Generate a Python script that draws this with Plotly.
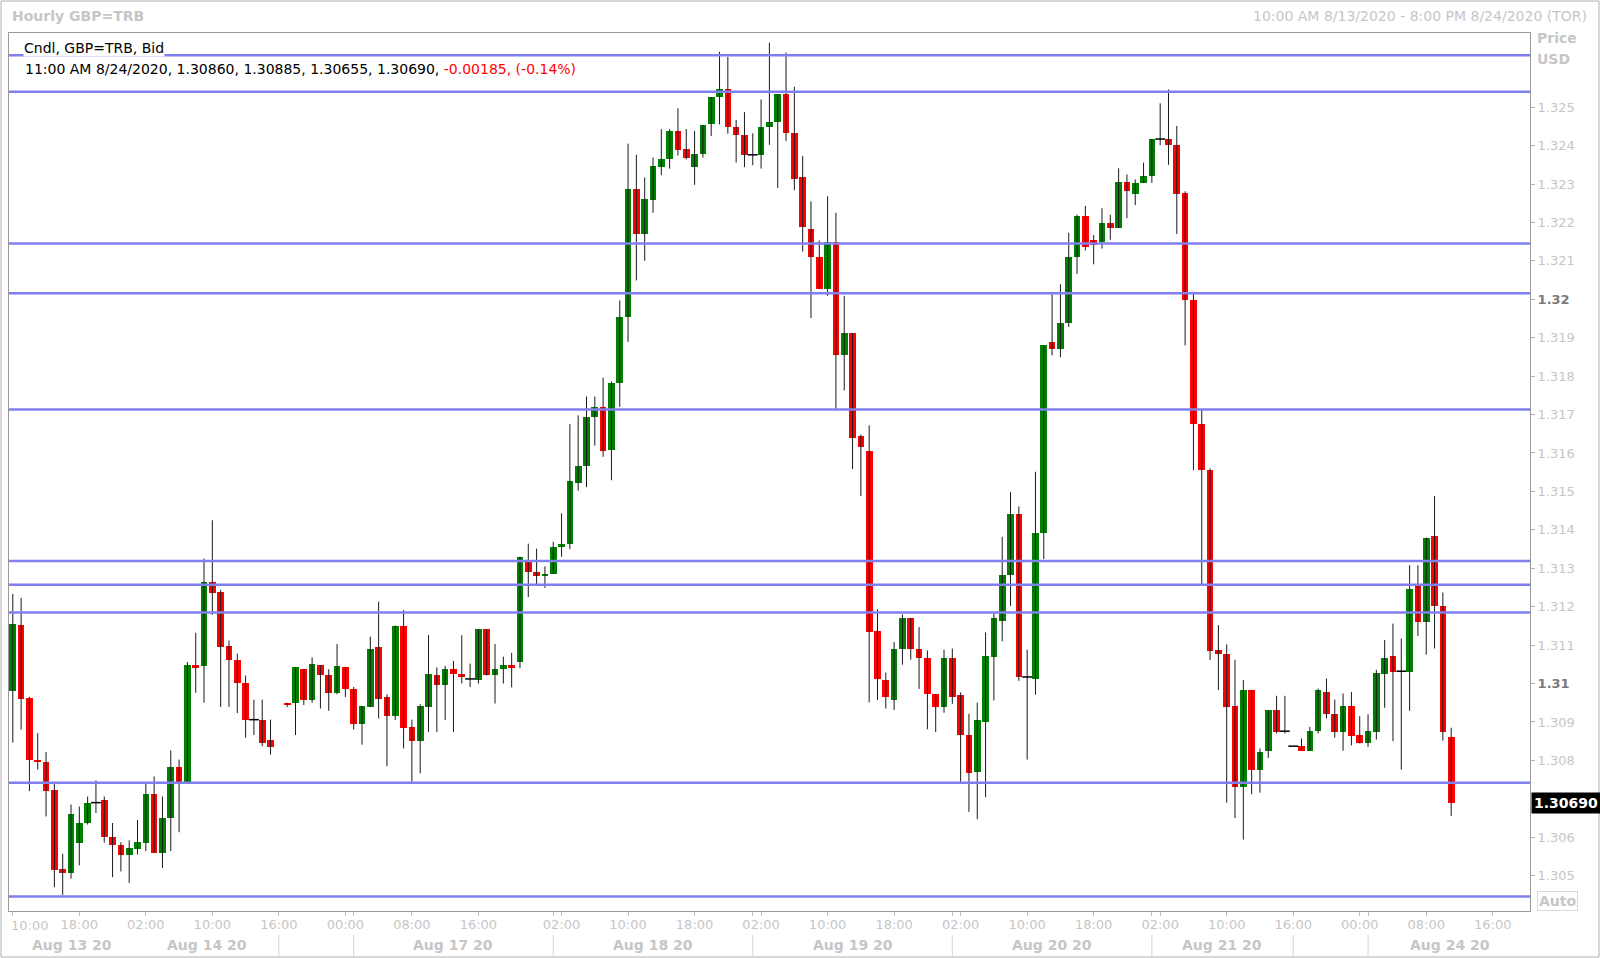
import plotly.graph_objects as go

# ---------------- data (hourly GBP=TRB bid candles, slot index = hourly bar) ----------------
opens = [1.30981, 1.31152, 1.30963, 1.30802, 1.30796, 1.30722, 1.30517, 1.30507, 1.30586, 1.30636,
         1.30690, 1.30696, 1.30601, 1.30581, 1.30555, 1.30570, 1.30586, 1.30713, 1.30560, 1.30650,
         1.30783, 1.30745, 1.31047, 1.31045, 1.31263, 1.31238, 1.31097, 1.31062, 1.31002, 1.30906,
         1.30906, 1.30853, None, 1.30950, 1.30950, 1.31037, 1.30957, 1.31047, 1.31022, 1.30976,
         1.31042, 1.30987, 1.30894, 1.30939, 1.31096, 1.30964, 1.30915, 1.31151, 1.30886, 1.30850,
         1.30939, 1.31022, 1.30996, 1.31037, 1.31026, 1.31012, 1.31010, 1.31141, 1.31021, 1.31037,
         1.31048, 1.31055, 1.31315, 1.31291, 1.31279, 1.31286, 1.31355, 1.31364, 1.31521, 1.31565,
         1.31693, 1.31720, 1.31609, 1.31781, 1.31953, 1.32288, 1.32171, 1.32259, 1.32345, 1.32364,
         1.32438, 1.32392, 1.32345, 1.32379, 1.32455, 1.32526, 1.32546, 1.32448, 1.32428, 1.32376,
         1.32376, 1.32448, 1.32462, 1.32533, 1.32432, 1.32317, 1.32183, 1.32111, 1.32026, 1.32150,
         1.31855, 1.31912, 1.31643, 1.31606, 1.31137, 1.31009, 1.30957, 1.31091, 1.31171, 1.31091,
         1.31066, 1.30973, 1.30940, 1.31066, 1.30970, 1.30865, 1.30771, 1.30899, 1.31070, 1.31164,
         1.31282, 1.31442, 1.31017, 1.31013, 1.31391, 1.31890, 1.31871, 1.31938, 1.32110, 1.32218,
         1.32155, 1.32148, 1.32198, 1.32186, 1.32306, 1.32274, 1.32303, 1.32322, 1.32417, 1.32417,
         1.32401, 1.32277, 1.31997, 1.31675, 1.31555, 1.31087, 1.31076, 1.30941, 1.30731, 1.30983,
         1.30776, 1.30825, 1.30930, 1.30876, 1.30837, 1.30837, 1.30825, 1.30876, 1.30978, 1.30920,
         1.30874, 1.30941, 1.30865, 1.30844, 1.30874, 1.31026, 1.31071, 1.31032, 1.31030, 1.31253,
         1.31159, 1.31385, 1.31202, 1.30860]
highs = [1.31233, 1.31223, 1.30965, 1.30871, 1.30822, 1.30739, 1.30557, 1.30685, 1.30680, 1.30706,
         1.30748, 1.30706, 1.30637, 1.30587, 1.30592, 1.30645, 1.30739, 1.30758, 1.30706, 1.30826,
         1.30802, 1.31056, 1.31132, 1.31325, 1.31425, 1.31244, 1.31112, 1.31078, 1.31021, 1.30958,
         1.30958, 1.30906, None, 1.30950, 1.31042, 1.31037, 1.31068, 1.31047, 1.31037, 1.31103,
         1.31042, 1.30991, 1.30941, 1.31122, 1.31213, 1.30972, 1.31151, 1.31191, 1.30906, 1.30946,
         1.31126, 1.31042, 1.31046, 1.31059, 1.31126, 1.31052, 1.31141, 1.31141, 1.31103, 1.31070,
         1.31080, 1.31330, 1.31364, 1.31351, 1.31305, 1.31369, 1.31443, 1.31675, 1.31698, 1.31747,
         1.31747, 1.31796, 1.31786, 1.31997, 1.32405, 1.32376, 1.32317, 1.32369, 1.32443, 1.32443,
         1.32497, 1.32443, 1.32438, 1.32453, 1.32526, 1.32644, 1.32631, 1.32467, 1.32487, 1.32432,
         1.32520, 1.32668, 1.32533, 1.32642, 1.32553, 1.32373, 1.32255, 1.32153, 1.32268, 1.32225,
         1.32009, 1.31912, 1.31648, 1.31672, 1.31193, 1.31029, 1.31108, 1.31180, 1.31171, 1.31147,
         1.31086, 1.30973, 1.31088, 1.31091, 1.30977, 1.30921, 1.30950, 1.31133, 1.31183, 1.31382,
         1.31498, 1.31461, 1.31088, 1.31551, 1.31880, 1.32013, 1.32039, 1.32173, 1.32220, 1.32243,
         1.32167, 1.32237, 1.32220, 1.32341, 1.32325, 1.32312, 1.32356, 1.32417, 1.32510, 1.32546,
         1.32451, 1.32281, 1.32018, 1.31713, 1.31560, 1.31152, 1.31102, 1.31062, 1.31009, 1.30983,
         1.30831, 1.30930, 1.30968, 1.30968, 1.30837, 1.30857, 1.30887, 1.30987, 1.31013, 1.30958,
         1.30974, 1.30978, 1.30915, 1.30920, 1.31036, 1.31113, 1.31156, 1.31117, 1.31308, 1.31308,
         1.31380, 1.31488, 1.31237, 1.30885]
lows = [1.30846, 1.30880, 1.30720, 1.30776, 1.30654, 1.30470, 1.30450, 1.30492, 1.30527, 1.30633,
        1.30663, 1.30586, 1.30496, 1.30511, 1.30481, 1.30555, 1.30564, 1.30560, 1.30520, 1.30564,
        1.30613, 1.30745, 1.30976, 1.30950, 1.31179, 1.30939, 1.30939, 1.30923, 1.30859, 1.30866,
        1.30837, 1.30815, None, 1.30939, 1.30866, 1.30944, 1.30950, 1.30935, 1.30929, 1.30972,
        1.30965, 1.30880, 1.30841, 1.30939, 1.30909, 1.30785, 1.30905, 1.30831, 1.30744, 1.30766,
        1.30874, 1.30874, 1.30905, 1.30874, 1.31000, 1.30991, 1.31000, 1.31021, 1.30948, 1.31000,
        1.30990, 1.31040, 1.31225, 1.31258, 1.31249, 1.31286, 1.31330, 1.31350, 1.31502, 1.31511,
        1.31619, 1.31590, 1.31529, 1.31720, 1.31889, 1.32049, 1.32100, 1.32225, 1.32323, 1.32340,
        1.32374, 1.32364, 1.32298, 1.32369, 1.32425, 1.32455, 1.32431, 1.32356, 1.32344, 1.32349,
        1.32340, 1.32402, 1.32290, 1.32412, 1.32284, 1.32124, 1.31951, 1.32026, 1.32009, 1.31715,
        1.31763, 1.31558, 1.31488, 1.30951, 1.30957, 1.30935, 1.30931, 1.31049, 1.31062, 1.30986,
        1.30881, 1.30874, 1.30924, 1.30947, 1.30744, 1.30666, 1.30647, 1.30704, 1.30956, 1.31110,
        1.31202, 1.31007, 1.30802, 1.30971, 1.31324, 1.31854, 1.31849, 1.31928, 1.32066, 1.32127,
        1.32091, 1.32132, 1.32155, 1.32186, 1.32211, 1.32245, 1.32303, 1.32303, 1.32401, 1.32350,
        1.32170, 1.31880, 1.31555, 1.31259, 1.31061, 1.30983, 1.30690, 1.30650, 1.30594, 1.30712,
        1.30716, 1.30806, 1.30870, 1.30870, 1.30837, 1.30825, 1.30825, 1.30870, 1.30909, 1.30859,
        1.30825, 1.30839, 1.30844, 1.30835, 1.30854, 1.30937, 1.30850, 1.30776, 1.30929, 1.31124,
        1.31075, 1.31091, 1.30851, 1.30655]
closes = [1.31156, 1.30961, 1.30800, 1.30796, 1.30720, 1.30515, 1.30507, 1.30661, 1.30636, 1.30690,
          1.30690, 1.30601, 1.30580, 1.30555, 1.30572, 1.30587, 1.30713, 1.30560, 1.30651, 1.30783,
          1.30745, 1.31047, 1.31040, 1.31263, 1.31236, 1.31095, 1.31060, 1.31001, 1.30904, 1.30906,
          1.30844, 1.30835, None, 1.30944, 1.31042, 1.30957, 1.31052, 1.31021, 1.30976, 1.31046,
          1.30987, 1.30894, 1.30941, 1.31091, 1.30961, 1.30915, 1.31151, 1.30885, 1.30850, 1.30941,
          1.31026, 1.30996, 1.31037, 1.31026, 1.31016, 1.31012, 1.31141, 1.31021, 1.31037, 1.31048,
          1.31040, 1.31330, 1.31291, 1.31279, 1.31286, 1.31355, 1.31364, 1.31526, 1.31565, 1.31693,
          1.31720, 1.31605, 1.31781, 1.31953, 1.32288, 1.32171, 1.32261, 1.32347, 1.32366, 1.32438,
          1.32389, 1.32369, 1.32379, 1.32453, 1.32526, 1.32546, 1.32448, 1.32428, 1.32376, 1.32376,
          1.32448, 1.32462, 1.32533, 1.32432, 1.32314, 1.32187, 1.32111, 1.32026, 1.32150, 1.31855,
          1.31912, 1.31639, 1.31615, 1.31134, 1.31012, 1.30966, 1.31091, 1.31171, 1.31091, 1.31066,
          1.30973, 1.30940, 1.31066, 1.30966, 1.30865, 1.30767, 1.30906, 1.31072, 1.31171, 1.31282,
          1.31442, 1.31017, 1.31017, 1.31391, 1.31880, 1.31871, 1.31938, 1.32110, 1.32218, 1.32136,
          1.32142, 1.32198, 1.32186, 1.32306, 1.32281, 1.32303, 1.32322, 1.32417, 1.32417, 1.32401,
          1.32274, 1.31997, 1.31675, 1.31555, 1.31085, 1.31076, 1.30939, 1.30731, 1.30983, 1.30776,
          1.30821, 1.30930, 1.30874, 1.30876, 1.30837, 1.30825, 1.30876, 1.30983, 1.30920, 1.30874,
          1.30941, 1.30864, 1.30844, 1.30877, 1.31028, 1.31067, 1.31030, 1.31032, 1.31247, 1.31159,
          1.31380, 1.31202, 1.30875, 1.30690]

# horizontal support / resistance levels
levels = [1.32635, 1.32540, 1.32145, 1.32016, 1.31713, 1.31319, 1.31257, 1.31185, 1.30742, 1.30446]

# time axis (bar slots)
time_tick_pos = [0, 8, 16, 24, 32, 40, 48, 56, 66, 74, 82, 90, 98, 106, 114, 122, 130, 138, 146, 154, 162, 170, 178]
time_tick_text = ["10:00", "18:00", "02:00", "10:00", "16:00", "00:00", "08:00", "16:00", "02:00", "10:00",
                  "18:00", "02:00", "10:00", "18:00", "02:00", "10:00", "18:00", "02:00", "10:00", "16:00",
                  "00:00", "08:00", "16:00"]
day_sep_pos = [32, 41, 65, 89, 113, 137, 154, 163]
date_labels = ["Aug 13 20", "Aug 14 20", "Aug 17 20", "Aug 18 20", "Aug 19 20", "Aug 20 20", "Aug 21 20", "Aug 24 20"]
date_label_pos = [7.1, 23.4, 53.0, 77.0, 101.0, 125.0, 145.4, 172.8]

# price axis
price_tick_vals = [1.305, 1.306, 1.308, 1.309, 1.310, 1.311, 1.312, 1.313, 1.314, 1.315, 1.316, 1.317,
                   1.318, 1.319, 1.320, 1.321, 1.322, 1.323, 1.324, 1.325]
price_tick_text = ["1.305", "1.306", "1.308", "1.309", "1.31", "1.311", "1.312", "1.313", "1.314", "1.315",
                   "1.316", "1.317", "1.318", "1.319", "1.32", "1.321", "1.322", "1.323", "1.324", "1.325"]
last_time_label = "11:00 AM 8/24/2020"

# ---------------- styling ----------------
W, H = 1600, 958
FONT = "DejaVu Sans"
LIGHT = "#c6c6c6"
GREEN = "#008000"
RED = "#ff0000"
LEVEL_COLOR = "#7f7ff0"
X0, X1 = 9, 1530      # plot box in pixels
Y0, Y1 = 33, 911


def px(x):
    return x / W


def py(y):
    return 1 - y / H


idx = [i for i, o in enumerate(opens) if o is not None]
O = [opens[i] for i in idx]
Hh = [highs[i] for i in idx]
L = [lows[i] for i in idx]
C = [closes[i] for i in idx]

# wicks
wx, wy = [], []
for i, h, l in zip(idx, Hh, L):
    wx += [i, i, None]
    wy += [l, h, None]

body_x, body_base, body_h, body_col = [], [], [], []
doji_x, doji_y = [], []
for i, o, c in zip(idx, O, C):
    if abs(c - o) < 1e-9:
        doji_x.append(i)
        doji_y.append(c)
    else:
        body_x.append(i)
        body_base.append(min(o, c))
        body_h.append(abs(c - o))
        body_col.append(GREEN if c > o else RED)

fig = go.Figure()
fig.add_trace(go.Scatter(x=wx, y=wy, mode="lines", line=dict(color="#1a1a1a", width=1),
                         hoverinfo="skip", showlegend=False))
fig.add_trace(go.Bar(x=body_x, y=body_h, base=body_base, width=0.8,
                     marker=dict(color=body_col, line=dict(width=0)),
                     hoverinfo="skip", showlegend=False))
fig.add_trace(go.Scatter(x=doji_x, y=doji_y, mode="markers",
                         marker=dict(symbol="line-ew", size=7, line=dict(color="#000000", width=1.5)),
                         hoverinfo="skip", showlegend=False))

shapes = []
for lv in levels:
    shapes.append(dict(type="line", xref="x domain", x0=0, x1=1, yref="y", y0=lv, y1=lv,
                       line=dict(color=LEVEL_COLOR, width=2.5), layer="above"))
for s in day_sep_pos:
    shapes.append(dict(type="line", xref="x", x0=s, x1=s, yref="paper", y0=py(956), y1=py(935),
                       line=dict(color="#d4d4d4", width=1)))
# outer frame
shapes.append(dict(type="rect", xref="paper", yref="paper", x0=px(1), x1=px(1599), y0=py(957), y1=py(1),
                   line=dict(color="#b0b0b0", width=1)))

ann = []
ann.append(dict(text="<b>Hourly GBP=TRB</b>", x=px(10), y=py(16), xref="paper", yref="paper",
                xanchor="left", yanchor="middle", showarrow=False, font=dict(family=FONT, size=14, color=LIGHT)))
ann.append(dict(text="10:00 AM 8/13/2020 - 8:00 PM 8/24/2020 (TOR)", x=px(1589), y=py(16), xref="paper",
                yref="paper", xanchor="right", yanchor="middle", showarrow=False,
                font=dict(family=FONT, size=14, color=LIGHT)))
ann.append(dict(text="<b>Price</b>", x=px(1535), y=py(38), xref="paper", yref="paper", xanchor="left",
                yanchor="middle", showarrow=False, font=dict(family=FONT, size=14, color=LIGHT)))
ann.append(dict(text="<b>USD</b>", x=px(1535), y=py(59), xref="paper", yref="paper", xanchor="left",
                yanchor="middle", showarrow=False, font=dict(family=FONT, size=14, color=LIGHT)))
ann.append(dict(text="<b>Auto</b>", x=px(1537), y=py(901), xref="paper", yref="paper", xanchor="left",
                yanchor="middle", showarrow=False, bordercolor="#d8d8d8", borderwidth=1, borderpad=1,
                font=dict(family=FONT, size=14, color=LIGHT)))
ann.append(dict(text="Cndl, GBP=TRB, Bid", x=px(23), y=py(48), xref="paper", yref="paper", xanchor="left",
                yanchor="middle", showarrow=False, bgcolor="white", borderpad=0,
                font=dict(family=FONT, size=14, color="black")))
lo, lh, ll, lc = opens[-1], highs[-1], lows[-1], closes[-1]
chg = lc - closes[-2]
pct = chg / closes[-2] * 100
info = (f"{last_time_label}, {lo:.5f}, {lh:.5f}, {ll:.5f}, {lc:.5f}, "
        f"<span style='color:#ff0000'>{chg:.5f}, ({pct:.2f}%)</span>")
ann.append(dict(text=info, x=px(23), y=py(69), xref="paper", yref="paper", xanchor="left",
                yanchor="middle", showarrow=False, font=dict(family=FONT, size=14, color="black")))
ann.append(dict(text=f"<b>{lc:.5f}</b>", x=px(1531), y=lc, xref="paper", yref="y", xanchor="left",
                yanchor="middle", showarrow=False, bgcolor="black", borderpad=2,
                font=dict(family=FONT, size=14, color="white")))
for pos, lab in zip(date_label_pos, date_labels):
    ann.append(dict(text=f"<b>{lab}</b>", x=pos, y=py(945), xref="x", yref="paper", xanchor="center",
                    yanchor="middle", showarrow=False, font=dict(family=FONT, size=14, color=LIGHT)))
# first time label sits at the left edge: left-aligned so it is not clipped
ann.append(dict(text=time_tick_text[0], x=px(9), y=py(925), xref="paper", yref="paper", xanchor="left",
                yanchor="middle", showarrow=False, font=dict(family=FONT, size=13, color=LIGHT)))

xt_vals = time_tick_pos + [s for s in day_sep_pos if s not in time_tick_pos]
xt_text = [""] + time_tick_text[1:] + ["" for s in day_sep_pos if s not in time_tick_pos]

ytext = [f"<b><span style='color:#7a7a7a'>{t}</span></b>" if len(t) == 4 else t for t in price_tick_text]

fig.update_layout(
    width=W, height=H, margin=dict(l=0, r=0, t=0, b=0),
    paper_bgcolor="white", plot_bgcolor="white",
    showlegend=False, bargap=0, hovermode=False,
    font=dict(family=FONT, size=13, color=LIGHT),
    xaxis=dict(domain=[px(X0), px(X1)], range=[-0.457, 182.48], showgrid=False, zeroline=False,
               showline=True, mirror=True, linecolor="#9a9a9a", linewidth=1,
               ticks="outside", ticklen=4, tickcolor="#c0c0c0", tickmode="array",
               tickvals=xt_vals, ticktext=xt_text, tickfont=dict(family=FONT, size=13, color=LIGHT),
               ticklabelstandoff=-3, fixedrange=True),
    yaxis=dict(domain=[py(Y1), py(Y0)], range=[1.30408, 1.32693], side="right", showgrid=False,
               zeroline=False, showline=True, mirror=True, linecolor="#9a9a9a", linewidth=1,
               ticks="outside", ticklen=4, tickcolor="#b0b0b0", tickmode="array",
               tickvals=price_tick_vals, ticktext=ytext, tickfont=dict(family=FONT, size=13, color=LIGHT),
               fixedrange=True),
    shapes=shapes, annotations=ann,
)

fig.write_html("out.html", config={"displayModeBar": False, "staticPlot": True},
               post_script="document.body.style.margin='0';document.body.style.overflow='hidden';")
